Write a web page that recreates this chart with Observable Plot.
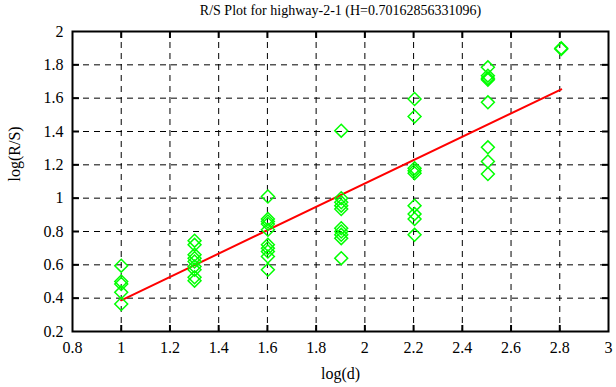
<!DOCTYPE html>
<html>
<head>
<meta charset="utf-8">
<script src="https://cdn.jsdelivr.net/npm/d3@7"></script>
<script src="https://cdn.jsdelivr.net/npm/@observablehq/plot@0.6"></script>
<style>
  html, body { margin: 0; padding: 0; background: white; }
</style>
</head>
<body>
<div id="chart"></div>
<script>
const titleText = "R/S Plot for highway-2-1 (H=0.70162856331096)";
const xLabel = "log(d)";
const yLabel = "log(R/S)";
const xTicks = [0.8, 1, 1.2, 1.4, 1.6, 1.8, 2, 2.2, 2.4, 2.6, 2.8, 3];
const yTicks = [0.2, 0.4, 0.6, 0.8, 1, 1.2, 1.4, 1.6, 1.8, 2];

// log(d) groups and the log(R/S) values read at each
const groupX = [1, 1.301, 1.602, 1.903, 2.204, 2.505, 2.806];
const groupY = [
  [0.595, 0.50, 0.485, 0.435, 0.365],
  [0.745, 0.72, 0.66, 0.64, 0.62, 0.59, 0.57, 0.525, 0.505],
  [1.01, 0.875, 0.86, 0.845, 0.81, 0.72, 0.70, 0.68, 0.65, 0.57],
  [1.405, 1.0, 0.975, 0.955, 0.935, 0.82, 0.80, 0.78, 0.76, 0.64],
  [1.595, 1.49, 1.18, 1.165, 1.15, 0.955, 0.905, 0.875, 0.78],
  [1.785, 1.735, 1.72, 1.71, 1.575, 1.305, 1.22, 1.145],
  [1.90, 1.895]
];

// fitted line end points
const fitX = [1, 2.806];
const fitY = [0.387, 1.653];

const points = groupX.flatMap((x, i) => groupY[i].map(y => ({x, y})));
const fit = fitX.map((x, i) => ({x, y: fitY[i]}));
const innerX = xTicks.slice(1, -1);
const innerY = yTicks.slice(1, -1);
const fmt = d => String(d);
const none = () => "";

const chart = Plot.plot({
  width: 616,
  height: 387,
  marginLeft: 72,
  marginRight: 8,
  marginTop: 31,
  marginBottom: 56,
  x: {domain: [0.8, 3]},
  y: {domain: [0.2, 2]},
  style: {fontFamily: "'Liberation Serif', 'DejaVu Serif', serif", fontSize: "16px", background: "white", color: "black"},
  marks: [
    Plot.gridX(innerX, {stroke: "black", strokeOpacity: 1, strokeWidth: 1, strokeDasharray: "6,5"}),
    Plot.gridY(innerY, {stroke: "black", strokeOpacity: 1, strokeWidth: 1, strokeDasharray: "6,5"}),
    // labels
    Plot.axisX(xTicks, {anchor: "bottom", tickSize: 0, tickPadding: 10, tickFormat: fmt, label: null, fontSize: 16}),
    Plot.axisY(yTicks, {anchor: "left", tickSize: 0, tickPadding: 9, tickFormat: fmt, label: null, fontSize: 16}),
    // inward ticks on all four sides
    Plot.axisX(innerX, {anchor: "bottom", tickSize: 6, dy: -6, tickFormat: none, label: null, strokeWidth: 2}),
    Plot.axisX(innerX, {anchor: "top", tickSize: 6, dy: 6, tickFormat: none, label: null, strokeWidth: 2}),
    Plot.axisY(innerY, {anchor: "left", tickSize: 7, dx: 7, tickFormat: none, label: null, strokeWidth: 2}),
    Plot.axisY(innerY, {anchor: "right", tickSize: 7, dx: -7, tickFormat: none, label: null, strokeWidth: 2}),
    Plot.frame({stroke: "black", strokeWidth: 2}),
    Plot.line(fit, {x: "x", y: "y", stroke: "#ff0000", strokeWidth: 2}),
    Plot.dot(points, {x: "x", y: "y", symbol: "diamond2", r: 5.8, stroke: "#00ff00", strokeWidth: 1.5, fill: "none"}),
    Plot.text([titleText], {frameAnchor: "top", dy: -21, text: d => d, fontSize: 14, lineAnchor: "middle"}),
    Plot.text([xLabel], {frameAnchor: "bottom", dy: 42, text: d => d, fontSize: 16, lineAnchor: "middle"}),
    Plot.text([yLabel], {frameAnchor: "left", dx: -58, text: d => d, fontSize: 16, rotate: -90, lineAnchor: "middle"})
  ]
});
document.getElementById("chart").appendChild(chart);
</script>
</body>
</html>
